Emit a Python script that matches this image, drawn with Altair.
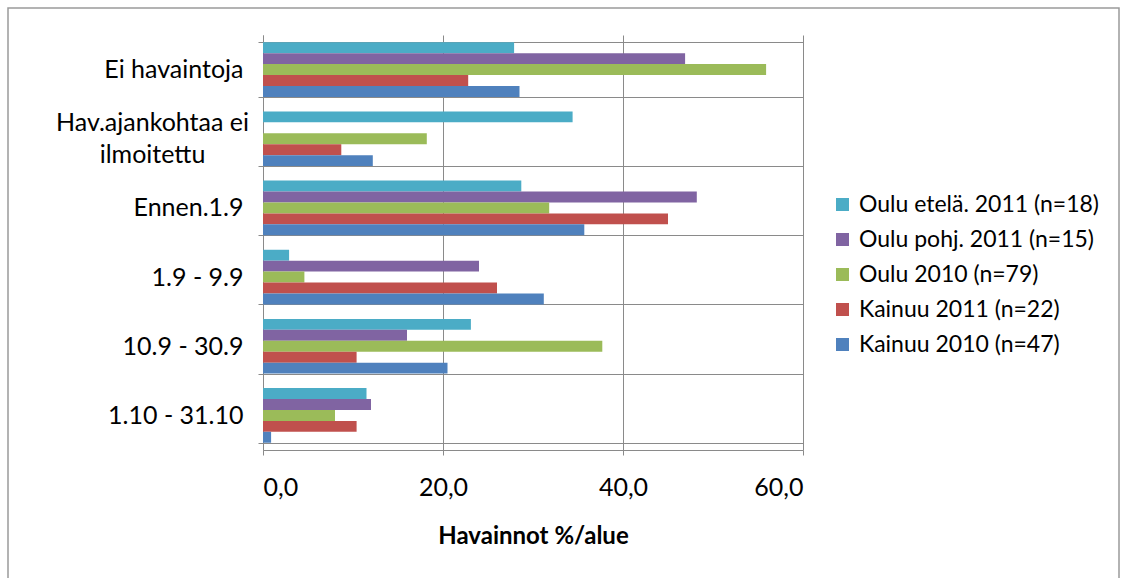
import altair as alt
import pandas as pd

# Observation timing categories (top to bottom) and the regional series
categories = [
    "Ei havaintoja",
    "Hav.ajankohtaa ei ilmoitettu",
    "Ennen.1.9",
    "1.9 - 9.9",
    "10.9 - 30.9",
    "1.10 - 31.10",
]
series = [
    "Oulu etelä. 2011 (n=18)",
    "Oulu pohj. 2011 (n=15)",
    "Oulu 2010 (n=79)",
    "Kainuu 2011 (n=22)",
    "Kainuu 2010 (n=47)",
]
colors = ["#4BACC6", "#8064A2", "#9BBB59", "#C0504D", "#4F81BD"]

# Share of observations (%) per area, in category order
oulu_etela_2011 = [27.9, 34.4, 28.7, 2.9, 23.1, 11.5]
oulu_pohj_2011 = [46.9, 0.0, 48.2, 24.0, 16.0, 12.0]
oulu_2010 = [55.9, 18.2, 31.8, 4.6, 37.7, 8.0]
kainuu_2011 = [22.8, 8.7, 45.0, 26.0, 10.4, 10.4]
kainuu_2010 = [28.5, 12.2, 35.7, 31.2, 20.5, 0.9]

values_by_series = [oulu_etela_2011, oulu_pohj_2011, oulu_2010, kainuu_2011, kainuu_2010]

rows = []
for name, vals in zip(series, values_by_series):
    for cat, v in zip(categories, vals):
        rows.append({"kategoria": cat, "alue": name, "osuus": v})
df = pd.DataFrame(rows)

FONT = "Lato"
FS = 25
GRID = "#8a8a8a"
TWO_LINE = "Hav.ajankohtaa ei ilmoitettu"
IS_TWO_LINE = "datum.value == '" + TWO_LINE + "'"

bars = alt.Chart(df).mark_bar().encode(
    x=alt.X(
        "osuus:Q",
        title="Havainnot %/alue",
        scale=alt.Scale(domain=[0, 60], nice=False),
        axis=alt.Axis(
            values=[0, 20, 40, 60],
            labelExpr="replace(format(datum.value, '.1f'), '.', ',')",
            grid=True,
            gridColor=GRID,
            domainColor=GRID,
            tickColor=GRID,
            tickSize=5,
            labelPadding=20,
            labelFont=FONT,
            labelFontSize=FS,
            labelColor="#000000",
            titleFont=FONT,
            titleFontSize=24,
            titleFontWeight="bold",
            titleColor="#000000",
            titlePadding=24,
        ),
    ),
    y=alt.Y(
        "kategoria:N",
        sort=categories,
        title=None,
        scale=alt.Scale(paddingInner=0.21, paddingOuter=0.105),
        axis=alt.Axis(
            tickBand="extent",
            grid=True,
            gridColor=GRID,
            domainColor=GRID,
            tickColor=GRID,
            tickSize=5,
            labelFont=FONT,
            labelFontSize=FS,
            labelColor="#000000",
            labelLineHeight=32,
            labelLimit=300,
            labelExpr=(
                IS_TWO_LINE + " ? ['Hav.ajankohtaa ei', 'ilmoitettu'] : datum.value"
            ),
            labelAlign={
                "condition": {"test": IS_TWO_LINE, "value": "center"},
                "value": "right",
            },
            labelPadding={
                "condition": {"test": IS_TWO_LINE, "value": 106},
                "value": 15,
            },
            labelOffset={
                "condition": {"test": IS_TWO_LINE, "value": -16},
                "value": 0,
            },
        ),
    ),
    yOffset=alt.YOffset("alue:N", sort=series, scale=alt.Scale(paddingInner=0, paddingOuter=0)),
    color=alt.Color(
        "alue:N",
        sort=series,
        scale=alt.Scale(domain=series, range=colors),
        legend=alt.Legend(
            title=None,
            orient="none",
            legendX=568,
            legendY=158,
            symbolType="square",
            symbolSize=169,
            symbolStrokeWidth=0,
            labelFont=FONT,
            labelFontSize=23,
            labelColor="#000000",
            labelLimit=400,
            labelOffset=5,
            rowPadding=11,
            padding=0,
        ),
    ),
)

# Light grey frame around the whole figure
frame = alt.Chart(pd.DataFrame({"k": [0]})).mark_rect(
    fill="transparent", stroke="#9a9a9a", strokeWidth=1.5
).encode(
    x=alt.value(-255), x2=alt.value(856),
    y=alt.value(-27), y2=alt.value(560),
)

chart = alt.layer(frame, bars).properties(
    width=540,
    height=415,
    padding={"left": 263, "top": 35, "right": 318, "bottom": 128},
    autosize=alt.AutoSizeParams(type="none"),
    background="#ffffff",
).configure_view(stroke=None)

chart.save("out.html", embed_options={"renderer": "svg", "actions": False})
